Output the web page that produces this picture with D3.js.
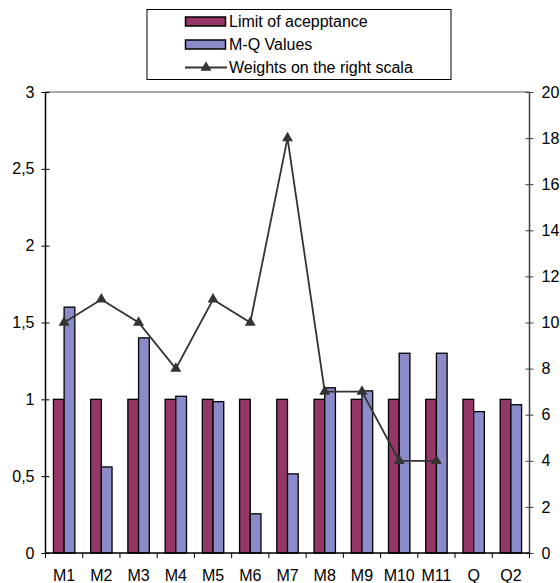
<!DOCTYPE html>
<html>
<head>
<meta charset="utf-8">
<script src="https://cdn.jsdelivr.net/npm/d3@7"></script>
<style>
body { margin: 0; background: #fff; }
svg { display: block; font-family: Arial, "Liberation Sans", sans-serif; font-size: 16px; }
</style>
</head>
<body>
<div id="chart"></div>
<script>
var categories = ["M1", "M2", "M3", "M4", "M5", "M6", "M7", "M8", "M9", "M10", "M11", "Q", "Q2"];
var limitValues = [1, 1, 1, 1, 1, 1, 1, 1, 1, 1, 1, 1, 1];
var mqValues = [1.6, 0.56, 1.4, 1.02, 0.985, 0.255, 0.515, 1.075, 1.055, 1.3, 1.3, 0.92, 0.965];
var weights = [10, 11, 10, 8, 11, 10, 18, 7, 7, 4, 4, null, null];
var leftTicks = [0, 0.5, 1, 1.5, 2, 2.5, 3];
var rightTicks = [0, 2, 4, 6, 8, 10, 12, 14, 16, 18, 20];
var seriesNames = ["Limit of acepptance", "M-Q Values", "Weights on the right scala"];

var width = 560, height = 583;
var pLeft = 45.5, pRight = 529.5, pTop = 92, pBottom = 553;
var barColors = ["#943767", "#8b8bc9"];
var lineColor = "#333";

var svg = d3.select("#chart").append("svg")
    .attr("width", width)
    .attr("height", height);

var x = d3.scaleBand().domain(categories).range([pLeft, pRight]);
var xs = d3.scaleBand().domain([0, 1]).range([0, x.bandwidth()]).paddingOuter(0.74);
var yL = d3.scaleLinear().domain([0, 3]).range([pBottom, pTop]);
var yR = d3.scaleLinear().domain([0, 20]).range([pBottom, pTop]);

// top border of plot area
svg.append("line")
    .attr("x1", pLeft).attr("x2", pRight)
    .attr("y1", pTop).attr("y2", pTop)
    .attr("stroke", "#888").attr("stroke-width", 1.5);

// bars
var series = [limitValues, mqValues];
series.forEach(function(vals, s) {
    svg.append("g").selectAll("rect")
	.data(vals)
	.join("rect")
	.attr("x", function(d, i) { return x(categories[i]) + xs(s); })
	.attr("width", xs.bandwidth())
	.attr("y", function(d) { return yL(d); })
	.attr("height", function(d) { return pBottom - yL(d); })
	.attr("fill", barColors[s])
	.attr("stroke", "#000")
	.attr("stroke-width", 1.3);
});

// left axis
var axL = svg.append("g")
    .attr("transform", "translate(" + pLeft + ",0)")
    .call(d3.axisLeft(yL).tickValues(leftTicks).tickSize(4)
	  .tickFormat(function(d) { return String(d).replace(".", ","); }));
axL.select(".domain").remove();
axL.append("line").attr("y1", pTop).attr("y2", pBottom).attr("stroke", "#000").attr("stroke-width", 1.5);
axL.selectAll(".tick line").attr("x2", 4).attr("x1", -4).attr("stroke", "#000");
axL.selectAll(".tick text").attr("x", -11).attr("font-size", 16).attr("font-family", null).attr("fill", "#000");

// right axis
var axR = svg.append("g")
    .attr("transform", "translate(" + pRight + ",0)")
    .call(d3.axisRight(yR).tickValues(rightTicks).tickSize(4));
axR.select(".domain").remove();
axR.append("line").attr("y1", pTop).attr("y2", pBottom).attr("stroke", "#404040").attr("stroke-width", 1.5);
axR.selectAll(".tick line").attr("x1", -4).attr("x2", 4).attr("stroke", "#404040");
axR.selectAll(".tick text").attr("x", 12).attr("font-size", 16).attr("font-family", null).attr("fill", "#000");

// bottom axis
var axB = svg.append("g")
    .attr("transform", "translate(0," + pBottom + ")");
axB.append("line").attr("x1", pLeft).attr("x2", pRight).attr("stroke", "#000").attr("stroke-width", 1.5);
axB.selectAll("line.tk")
    .data(categories.concat([null]))
    .join("line")
    .attr("class", "tk")
    .attr("x1", function(d, i) { return pLeft + i * x.step(); })
    .attr("x2", function(d, i) { return pLeft + i * x.step(); })
    .attr("y1", 0).attr("y2", 5)
    .attr("stroke", "#000");
axB.selectAll("text")
    .data(categories)
    .join("text")
    .attr("x", function(d) { return x(d) + x.bandwidth() / 2; })
    .attr("y", 28)
    .attr("text-anchor", "middle")
    .text(function(d) { return d; });

// weights line
var pts = weights.map(function(w, i) { return { c: categories[i], w: w }; })
    .filter(function(p) { return p.w != null; });
var line = d3.line()
    .x(function(p) { return x(p.c) + x.bandwidth() / 2; })
    .y(function(p) { return yR(p.w); });
svg.append("path")
    .datum(pts)
    .attr("d", line)
    .attr("fill", "none")
    .attr("stroke", lineColor)
    .attr("stroke-width", 1.8);
var tri = d3.symbol().type(d3.symbolTriangle).size(52);
svg.append("g").selectAll("path")
    .data(pts)
    .join("path")
    .attr("d", tri)
    .attr("transform", function(p) { return "translate(" + (x(p.c) + x.bandwidth() / 2) + "," + yR(p.w) + ")"; })
    .attr("fill", lineColor);

// legend
var lg = svg.append("g");
lg.append("rect")
    .attr("x", 147).attr("y", 9.5)
    .attr("width", 304).attr("height", 70)
    .attr("fill", "#fff").attr("stroke", "#000").attr("stroke-width", 1);
var rowY = [21.5, 44.5, 67.5];
[0, 1].forEach(function(s) {
    lg.append("rect")
	.attr("x", 185.5).attr("y", rowY[s] - 4.5)
	.attr("width", 40).attr("height", 9)
	.attr("fill", barColors[s])
	.attr("stroke", "#000").attr("stroke-width", 1.5);
});
lg.append("line")
    .attr("x1", 185).attr("x2", 227)
    .attr("y1", rowY[2]).attr("y2", rowY[2])
    .attr("stroke", lineColor).attr("stroke-width", 1.8);
lg.append("path")
    .attr("d", tri)
    .attr("transform", "translate(206," + rowY[2] + ")")
    .attr("fill", lineColor);
lg.selectAll("text.lbl")
    .data(seriesNames)
    .join("text")
    .attr("class", "lbl")
    .attr("x", 229)
    .attr("y", function(d, i) { return rowY[i]; })
    .attr("dy", "0.35em")
    .text(function(d) { return d; });
</script>
</body>
</html>
